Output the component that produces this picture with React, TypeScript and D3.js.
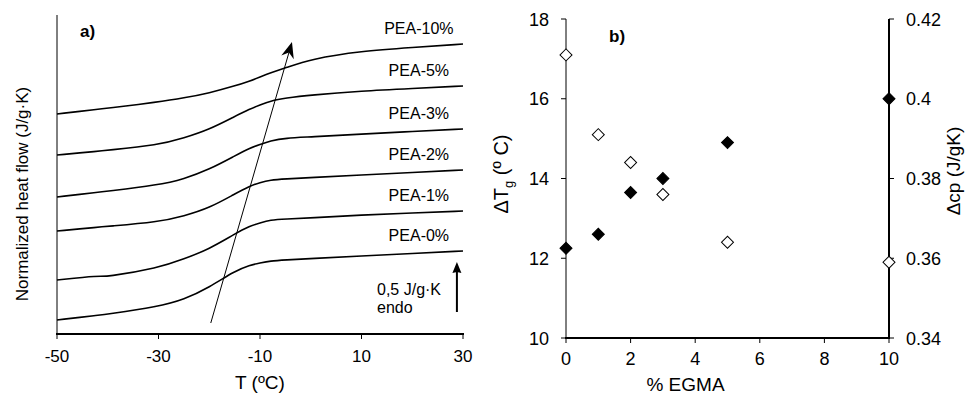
import React from 'react';
import * as d3 from 'd3';

// ---------- Panel a) data ----------
const temps = [-50, -41.5, -40.5, -30, -25, -20, -15, -12, -10, -8, -5, 0, 10, 20, 30];
const pea0 = [0.14, 0.19, 0.195, 0.275, 0.344, 0.466, 0.63, 0.69, 0.71, 0.73, 0.74, 0.755, 0.78, 0.805, 0.83];
const pea1 = [0.54, 0.585, 0.568, 0.66, 0.75, 0.85, 1.0, 1.08, 1.11, 1.14, 1.15, 1.16, 1.19, 1.21, 1.23];
const pea2 = [1.03, 1.07, 1.075, 1.12, 1.18, 1.26, 1.4, 1.48, 1.515, 1.54, 1.55, 1.565, 1.59, 1.615, 1.64];
const pea3 = [1.37, 1.42, 1.425, 1.49, 1.55, 1.645, 1.78, 1.86, 1.895, 1.93, 1.96, 1.97, 2.0, 2.025, 2.05];
const pea5 = [1.79, 1.83, 1.835, 1.89, 1.96, 2.045, 2.175, 2.25, 2.29, 2.33, 2.36, 2.39, 2.43, 2.455, 2.48];
const pea10 = [2.2, 2.25, 2.255, 2.32, 2.36, 2.41, 2.48, 2.53, 2.57, 2.61, 2.66, 2.75, 2.83, 2.865, 2.9];
const seriesNames = ['PEA-0%', 'PEA-1%', 'PEA-2%', 'PEA-3%', 'PEA-5%', 'PEA-10%'];
const seriesValues = [pea0, pea1, pea2, pea3, pea5, pea10];
const tTicks = [-50, -30, -10, 10, 30];
const trendT = [-19.7, -3.7];
const trendV = [0.11, 2.92];
const scaleBarT = 28.8;
const scaleBarV = [0.22, 0.72];
const labelT = 21.3;

// ---------- Panel b) data ----------
const egma = [0, 1, 2, 3, 5, 10];
const deltaTg = [17.1, 15.1, 14.4, 13.6, 12.4, 11.9];
const deltaCp = [0.3625, 0.366, 0.3765, 0.38, 0.389, 0.4];
const egmaTicks = [0, 2, 4, 6, 8, 10];
const tgTicks = [10, 12, 14, 16, 18];
const cpTicks = [0.34, 0.36, 0.38, 0.4, 0.42];
const cpTickLabels = ['0.34', '0.36', '0.38', '0.4', '0.42'];

const FONT = '"Liberation Sans", Arial, sans-serif';

function arrowHead(x1: number, y1: number, x2: number, y2: number, len: number, hw: number, notch: number) {
  const a = Math.atan2(y2 - y1, x2 - x1);
  const c = Math.cos(a), s = Math.sin(a);
  const pt = (dx: number, dy: number) => `${x2 + dx * c - dy * s},${y2 + dx * s + dy * c}`;
  return `M${pt(0, 0)}L${pt(-len, -hw)}L${pt(-len + notch, 0)}L${pt(-len, hw)}Z`;
}

export default function App() {
  // Panel a scales
  const xa = d3.scaleLinear().domain([-50, 30]).range([57, 463]);
  const ya = d3.scaleLinear().domain([0, 3.2]).range([334, 14]);
  const line = d3
    .line<number>()
    .x((_, i) => xa(temps[i]))
    .y((d) => ya(d))
    .curve(d3.curveBasis);

  // Panel b scales
  const xb = d3.scaleLinear().domain([0, 10]).range([566, 889]);
  const ybL = d3.scaleLinear().domain([10, 18]).range([338, 19]);
  const ybR = d3.scaleLinear().domain([0.34, 0.42]).range([338, 19]);
  const diamond = d3.symbol(d3.symbolSquare, 72)() as string;

  const tx1 = xa(trendT[0]), ty1 = ya(trendV[0]), tx2 = xa(trendT[1]), ty2 = ya(trendV[1]);
  const sx = xa(scaleBarT), sy1 = ya(scaleBarV[0]), sy2 = ya(scaleBarV[1]);

  return (
    <svg width={965} height={395} style={{ position: 'absolute', left: 0, top: 0, background: '#fff' }} fontFamily={FONT}>
      <rect width={965} height={395} fill="#fff" />
      {/* ---------- Panel a ---------- */}
      <line x1={57} x2={57} y1={15} y2={334} stroke="#000" strokeWidth={1} />
      <line x1={56} x2={464} y1={334} y2={334} stroke="#000" strokeWidth={2} />
      {tTicks.map((t) => (
        <g key={t}>
          <line x1={xa(t)} x2={xa(t)} y1={334} y2={339} stroke="#000" strokeWidth={1} />
          <text x={xa(t)} y={362} fontSize={17} textAnchor="middle">{t}</text>
        </g>
      ))}
      <text x={xa(-10)} y={389} fontSize={19} textAnchor="middle">T (ºC)</text>
      <text transform="translate(28,194) rotate(-90)" fontSize={17} textAnchor="middle">
        Normalized heat flow (J/g·K)
      </text>
      <text x={80} y={37} fontSize={17} fontWeight="bold">a)</text>
      {seriesValues.map((vals, i) => (
        <g key={seriesNames[i]}>
          <path d={line(vals) as string} fill="none" stroke="#000" strokeWidth={1.6} />
          <text x={xa(labelT)} y={ya(vals[vals.length - 1]) - 10} fontSize={16} textAnchor="middle">
            {seriesNames[i]}
          </text>
        </g>
      ))}
      {/* trend arrow */}
      <line x1={tx1} y1={ty1} x2={tx2 - (tx2 - tx1) * 0.03} y2={ty2 - (ty2 - ty1) * 0.03} stroke="#000" strokeWidth={1} />
      <path d={arrowHead(tx1, ty1, tx2, ty2, 16, 6.5, 5)} fill="#000" />
      {/* scale bar */}
      <line x1={sx} x2={sx} y1={sy1} y2={sy2 + 6} stroke="#000" strokeWidth={2} />
      <path d={arrowHead(sx, sy1, sx, sy2, 11, 4.5, 1)} fill="#000" />
      <text x={377} y={295} fontSize={16}>0,5 J/g·K</text>
      <text x={377} y={313} fontSize={16}>endo</text>

      {/* ---------- Panel b ---------- */}
      <line x1={566} x2={566} y1={19} y2={338} stroke="#000" strokeWidth={1} />
      <line x1={565} x2={890} y1={338} y2={338} stroke="#000" strokeWidth={2} />
      <line x1={889} x2={889} y1={19} y2={339} stroke="#000" strokeWidth={2} />
      {tgTicks.map((v) => (
        <g key={'l' + v}>
          <line x1={561} x2={566} y1={ybL(v)} y2={ybL(v)} stroke="#000" strokeWidth={1} />
          <text x={549} y={ybL(v) + 6.5} fontSize={18} textAnchor="end">{v}</text>
        </g>
      ))}
      {cpTicks.map((v, i) => (
        <g key={'r' + v}>
          <line x1={889} x2={894} y1={ybR(v)} y2={ybR(v)} stroke="#000" strokeWidth={1} />
          <text x={906} y={ybR(v) + 6.5} fontSize={18}>{cpTickLabels[i]}</text>
        </g>
      ))}
      {egmaTicks.map((v) => (
        <g key={'x' + v}>
          <line x1={xb(v)} x2={xb(v)} y1={338} y2={343} stroke="#000" strokeWidth={1} />
          <text x={xb(v)} y={365} fontSize={18} textAnchor="middle">{v}</text>
        </g>
      ))}
      <text x={xb(3.7)} y={391} fontSize={19} textAnchor="middle">% EGMA</text>
      <text transform="translate(508,174) rotate(-90)" fontSize={20} textAnchor="middle">
        ΔT<tspan fontSize={13} dy={5}>g</tspan><tspan dy={-5}> (º C)</tspan>
      </text>
      <text transform="translate(960,171) rotate(-90)" fontSize={19} textAnchor="middle">
        Δcp (J/gK)
      </text>
      <text x={609} y={42} fontSize={17} fontWeight="bold">b)</text>
      {egma.map((e, i) => (
        <path key={'o' + e} d={diamond} transform={`translate(${xb(e)},${ybL(deltaTg[i])}) rotate(45)`} fill="#fff" stroke="#000" strokeWidth={1} />
      ))}
      {egma.map((e, i) => (
        <path key={'f' + e} d={diamond} transform={`translate(${xb(e)},${ybR(deltaCp[i])}) rotate(45)`} fill="#000" stroke="#000" strokeWidth={1} />
      ))}
    </svg>
  );
}
